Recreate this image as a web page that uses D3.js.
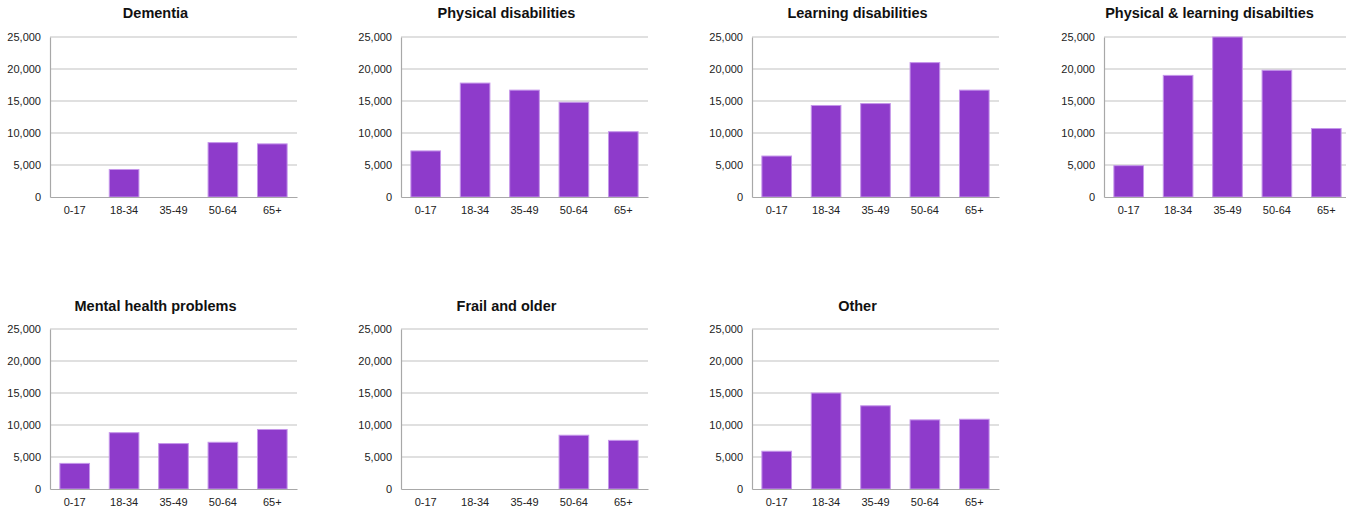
<!DOCTYPE html>
<html>
<head>
<meta charset="utf-8">
<script src="https://cdn.jsdelivr.net/npm/d3@7"></script>
<style>
  html, body { margin: 0; padding: 0; background: #fff; }
  svg { display: block; }
  text { font-family: "Liberation Sans", Arial, Helvetica, sans-serif; }
</style>
</head>
<body>
<svg id="chart" width="1346" height="510"></svg>
<script>
const categories = ["0-17", "18-34", "35-49", "50-64", "65+"];
const yTicks = [0, 5000, 10000, 15000, 20000, 25000];
const titles = ["Dementia", "Physical disabilities", "Learning disabilities", "Physical & learning disabilties",
                "Mental health problems", "Frail and older", "Other"];
const dementia = [0, 4300, 0, 8500, 8300];
const physical = [7200, 17800, 16700, 14800, 10200];
const learning = [6400, 14300, 14600, 21000, 16700];
const physLearning = [4900, 19000, 25000, 19800, 10700];
const mentalHealth = [4000, 8800, 7100, 7300, 9300];
const frailOlder = [0, 0, 0, 8400, 7600];
const other = [5900, 15000, 13000, 10800, 10900];

const seriesList = [dementia, physical, learning, physLearning, mentalHealth, frailOlder, other];

const svg = d3.select("#chart");
const panelLeft = [50, 401, 752, 1104];
const rowTop = [37, 329];
const plotW = 247, plotH = 160;
const fmt = d3.format(",");

seriesList.forEach((vals, i) => {
  const row = Math.floor(i / 4), col = i % 4;
  const x0 = panelLeft[col], y0 = rowTop[row];
  const g = svg.append("g").attr("transform", `translate(${x0},${y0})`);

  const x = d3.scaleBand().domain(categories).range([0, plotW]).paddingInner(0.4).paddingOuter(0.2);
  const y = d3.scaleLinear().domain([0, 25000]).range([plotH, 0]);

  // gridlines
  g.append("g").selectAll("line").data(yTicks.filter(t => t > 0)).join("line")
    .attr("x1", 0).attr("x2", plotW)
    .attr("y1", d => y(d)).attr("y2", d => y(d))
    .attr("stroke", "#d6d6d6").attr("stroke-width", 1.5);

  // y axis
  const ya = g.append("g").call(d3.axisLeft(y).tickValues(yTicks).tickFormat(fmt).tickSize(0).tickPadding(9));
  ya.select(".domain").attr("stroke", "#a8a8a8").attr("stroke-width", 1.2);
  ya.selectAll("text").attr("font-size", "11px").attr("fill", "#222");

  // bars
  g.append("g").selectAll("rect").data(vals.map((v, k) => ({ c: categories[k], v })).filter(d => d.v > 0)).join("rect")
    .attr("x", d => x(d.c)).attr("width", x.bandwidth())
    .attr("y", d => y(d.v)).attr("height", d => plotH - y(d.v))
    .attr("fill", "#8e3bcb").attr("stroke", "#c596ea").attr("stroke-width", 1);

  // x axis
  const xa = g.append("g").attr("transform", `translate(0,${plotH})`)
    .call(d3.axisBottom(x).tickSize(0).tickPadding(9));
  xa.select(".domain").attr("stroke", "#a8a8a8").attr("stroke-width", 1.2);
  xa.selectAll("text").attr("font-size", "11px").attr("fill", "#222");

  // title
  g.append("text").attr("x", plotW / 2 - 18).attr("y", row === 0 ? -19 : -18)
    .attr("text-anchor", "middle").attr("font-size", "14.5px").attr("font-weight", "bold")
    .attr("fill", "#111").text(titles[i]);
});
</script>
</body>
</html>
